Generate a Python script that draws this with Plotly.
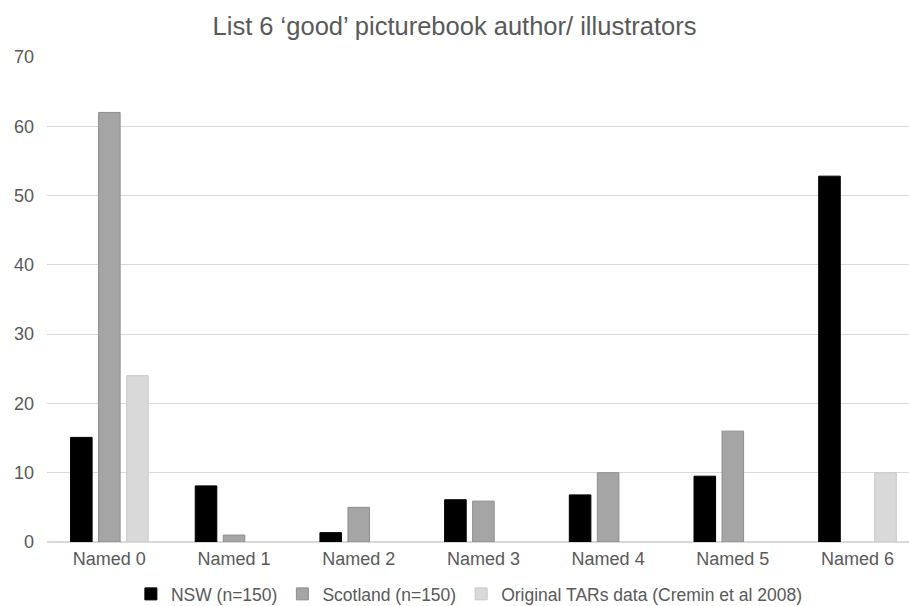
import plotly.graph_objects as go

# Number of 'good' picturebook author/illustrators named
categories = ["Named 0", "Named 1", "Named 2", "Named 3", "Named 4", "Named 5", "Named 6"]
nsw = [15.1, 8.1, 1.35, 6.1, 6.8, 9.5, 52.8]
scotland = [62.0, 1.0, 5.0, 5.9, 10.0, 16.0, None]
original_tars = [24.0, None, None, None, None, None, 10.0]
y_ticks = [0, 10, 20, 30, 40, 50, 60, 70]

series = [
    ("NSW (n=150)", nsw, "#000000", "#000000"),
    ("Scotland (n=150)", scotland, "#a5a5a5", "#8e8e8e"),
    ("Original TARs data (Cremin et al 2008)", original_tars, "#d9d9d9", "#c9c9c9"),
]

FONT = "Arial, 'Liberation Sans', sans-serif"
TEXT = "#595959"
GRID = "#d9d9d9"

fig = go.Figure()
for name, vals, fill, edge in series:
    fig.add_trace(go.Bar(
        name=name,
        x=categories,
        y=vals,
        marker=dict(color=fill, line=dict(color=edge, width=1)),
    ))

fig.update_layout(
    width=909,
    height=606,
    margin=dict(l=47, r=0, t=57, b=64),
    paper_bgcolor="white",
    plot_bgcolor="white",
    barmode="group",
    bargap=0.326,
    bargroupgap=0.23,
    font=dict(family=FONT, size=18, color=TEXT),
    title=dict(
        text="List 6 \u2018good\u2019 picturebook author/ illustrators",
        font=dict(family=FONT, size=25.5, color=TEXT),
        x=0.5, xref="container", xanchor="center",
        y=1 - 26 / 606, yref="container", yanchor="middle",
    ),
    legend=dict(
        orientation="h",
        x=0.49, xanchor="center",
        y=1 - 594 / 606, yref="container", yanchor="middle",
        font=dict(family=FONT, size=17.5, color=TEXT),
        itemwidth=30,
        traceorder="normal",
    ),
    showlegend=True,
)

fig.update_xaxes(
    type="category",
    range=[-0.5, 6.413],
    showgrid=False,
    showline=True,
    linecolor=GRID,
    linewidth=1,
    ticks="",
    tickfont=dict(family=FONT, size=18, color=TEXT),
)
fig.update_yaxes(
    range=[0, 70],
    tickvals=y_ticks,
    showgrid=True,
    gridcolor=GRID,
    gridwidth=1,
    zeroline=True,
    zerolinecolor=GRID,
    showline=False,
    ticks="",
    ticklabelstandoff=12,
    tickfont=dict(family=FONT, size=18, color=TEXT),
)

fig.write_html("out.html")
